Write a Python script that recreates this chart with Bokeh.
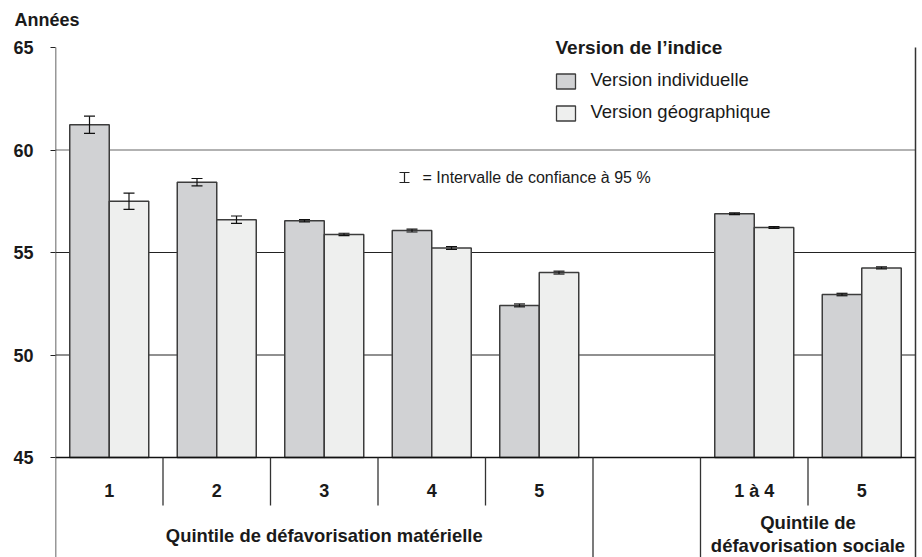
from bokeh.plotting import figure
from bokeh.models import Range1d, FixedTicker, Label, Whisker, ColumnDataSource, TeeHead
from bokeh.core.properties import value
from bokeh.embed import file_html
from bokeh.resources import INLINE

# ---- data ----
categories = ["1", "2", "3", "4", "5", "", "1 à 4", "5"]
individuelle = [61.23, 58.43, 56.55, 56.07, 52.42, None, 56.89, 52.95]
geographique = [57.50, 56.60, 55.88, 55.22, 54.02, None, 56.22, 54.25]
ci_individuelle = [0.42, 0.18, 0.06, 0.07, 0.07, None, 0.04, 0.06]
ci_geographique = [0.40, 0.18, 0.06, 0.07, 0.07, None, 0.04, 0.05]
series_names = ["Version individuelle", "Version géographique"]
legend_title = "Version de l’indice"
group_labels = ["Quintile de défavorisation matérielle", "Quintile de\ndéfavorisation sociale"]
y_ticks = [45, 50, 55, 60, 65]
y_title = "Années"
ci_note = "= Intervalle de confiance à 95 %"

FONT = "Liberation Sans"
TXT = "#1a1a1a"
C_IND = "#d1d2d4"
C_GEO = "#eeefee"
EDGE = "#3c3c3c"

# pixel (image) -> data helpers for decoration placement
PX_SLOT = 107.5
PX_UNIT = 20.5
def dx(X):
    return -0.5 + (X - 55) / PX_SLOT
def dy(Y):
    return 65 - (Y - 47) / PX_UNIT

W, H = 922, 557
TOP = 30
p = figure(width=W, height=H, output_backend="svg", toolbar_location=None,
           x_axis_location=None,
           x_range=Range1d(-0.5, dx(W)), y_range=Range1d(dy(H), dy(TOP)),
           min_border_left=55, min_border_right=0, min_border_top=TOP, min_border_bottom=0)
p.outline_line_color = None
p.border_fill_color = None
p.xgrid.visible = False
p.ygrid.visible = False

# y title as figure title, pulled to the left edge
p.title.text = y_title
p.title.align = "left"
p.title.offset = -41
p.title.standoff = 2
p.title.text_font = FONT
p.title.text_font_style = "bold"
p.title.text_font_size = "18px"
p.title.text_color = TXT

ax = p.yaxis[0]
ax.ticker = FixedTicker(ticks=y_ticks)
ax.axis_line_color = None
ax.major_tick_out = 5
ax.major_tick_in = 0
ax.minor_tick_line_color = None
ax.major_tick_line_color = "#222222"
ax.major_label_text_font = FONT
ax.major_label_text_font_style = "bold"
ax.major_label_text_font_size = "18px"
ax.major_label_text_color = TXT
ax.major_label_standoff = 17

n = len(categories)
idx = list(range(n))
lo, hi = y_ticks[0], y_ticks[-1]
left_edge, right_edge = -0.5, n - 0.5
bottom = dy(H)

# gridlines
grid = y_ticks[1:-1]
p.segment(x0=[left_edge] * len(grid), x1=[right_edge] * len(grid), y0=grid, y1=grid,
          line_color=["#222222", "#222222", "#666666"], line_width=1.2)

# bars
bw = 39.5 / PX_SLOT
ids = [i for i in idx if individuelle[i] is not None]
src_i = ColumnDataSource(dict(
    x=[i - bw / 2 for i in ids], top=[individuelle[i] for i in ids],
    lower=[individuelle[i] - ci_individuelle[i] for i in ids],
    upper=[individuelle[i] + ci_individuelle[i] for i in ids]))
src_g = ColumnDataSource(dict(
    x=[i + bw / 2 for i in ids], top=[geographique[i] for i in ids],
    lower=[geographique[i] - ci_geographique[i] for i in ids],
    upper=[geographique[i] + ci_geographique[i] for i in ids]))
p.vbar(x="x", top="top", bottom=lo, width=bw, source=src_i,
       fill_color=C_IND, line_color=EDGE, line_width=1.5)
p.vbar(x="x", top="top", bottom=lo, width=bw, source=src_g,
       fill_color=C_GEO, line_color=EDGE, line_width=1.5)
for s in (src_i, src_g):
    p.add_layout(Whisker(source=s, base="x", upper="upper", lower="lower", level="overlay",
                         line_color="#111111", line_width=1.2,
                         upper_head=TeeHead(size=11, line_color="#111111", line_width=1.2),
                         lower_head=TeeHead(size=11, line_color="#111111", line_width=1.2)))

# frame lines: baseline, left axis, right border
p.segment(x0=[left_edge], x1=[right_edge], y0=[lo], y1=[lo], line_color="#111111", line_width=1.5)
p.segment(x0=[left_edge, right_edge], x1=[left_edge, right_edge], y0=[hi, hi], y1=[bottom, bottom],
          line_color="#333333", line_width=1.5)

# category separators
short_sep = [0.5, 1.5, 2.5, 3.5, 6.5]
long_sep = [4.5, 5.5]
p.segment(x0=short_sep, x1=short_sep, y0=[lo] * len(short_sep), y1=[dy(505)] * len(short_sep),
          line_color="#333333", line_width=1.3)
p.segment(x0=long_sep, x1=long_sep, y0=[lo] * len(long_sep), y1=[bottom] * len(long_sep),
          line_color="#333333", line_width=1.3)

# category labels
p.text(x=idx, y=[dy(490)] * n, text=categories, text_align="center", text_baseline="middle",
       text_font=value(FONT), text_font_style="bold", text_font_size="18px", text_color=TXT)

# group labels
g1 = group_labels[0]
p.text(x=[2.0], y=[dy(535)], text=[g1], text_align="center", text_baseline="middle",
       text_font=value(FONT), text_font_style="bold", text_font_size="18.4px", text_color=TXT)
g2 = group_labels[1].split("\n")
p.text(x=[6.5, 6.5], y=[dy(522), dy(545)], text=g2, text_align="center", text_baseline="middle",
       text_font=value(FONT), text_font_style="bold", text_font_size="18.5px", text_color=TXT)

# legend
p.add_layout(Label(x=dx(555), y=dy(47), text=legend_title, text_font=FONT, text_font_style="bold",
                   text_font_size="19px", text_baseline="middle", text_color=TXT))
p.rect(x=[dx(565.5), dx(565.5)], y=[dy(81), dy(113)], width=19, height=15,
       width_units="screen", height_units="screen",
       fill_color=[C_IND, C_GEO], line_color=EDGE, line_width=1.3)
for yy, name in zip((79, 111), series_names):
    p.add_layout(Label(x=dx(590), y=dy(yy), text=name, text_font=FONT,
                       text_font_size="18.5px", text_baseline="middle", text_color=TXT))

# CI note
cx, cy = dx(404), dy(177)
p.segment(x0=[cx, dx(399), dx(399)], x1=[cx, dx(409), dx(409)],
          y0=[dy(172), dy(172), dy(182)], y1=[dy(182), dy(172), dy(182)],
          line_color="#222222", line_width=1.2)
p.add_layout(Label(x=dx(422), y=cy, text=ci_note, text_font=FONT,
                   text_font_size="16px", text_baseline="middle", text_color=TXT))

open("out.html", "w").write(file_html(p, INLINE))
